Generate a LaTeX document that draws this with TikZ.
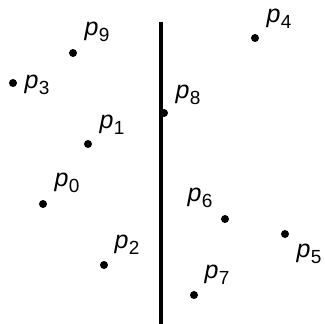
\documentclass[tikz,border=0pt]{standalone}
\usepackage{fontspec}
\setmainfont{Liberation Sans}
\setsansfont{Liberation Sans}
\newcommand\plab[1]{\textit{p}\kern0.3pt\raisebox{-5.5pt}{\fontsize{19}{19}\selectfont #1}}
\begin{document}
\begin{tikzpicture}[x=1pt,y=-1pt,
  pt/.style={circle,fill=black,inner sep=0pt,minimum size=8pt},
  lab/.style={inner sep=0pt,font=\fontsize{25}{27}\selectfont},
  sep/.style={line width=4pt}]
\useasboundingbox (0,0) rectangle (325,324);
\coordinate (top) at (161,22);
\coordinate (bot) at (161,324);
\draw[sep] (top) -- (bot);
\node[pt] (p0) at (43,204) {};
\node[pt] (p1) at (88,144) {};
\node[pt] (p2) at (104,265) {};
\node[pt] (p3) at (13,83) {};
\node[pt] (p4) at (255,38) {};
\node[pt] (p5) at (285,234) {};
\node[pt] (p6) at (225,219) {};
\node[pt] (p7) at (194,295) {};
\node[pt] (p8) at (164,113) {};
\node[pt] (p9) at (73,53) {};
\node[lab] (l0) at (67,183) {\plab{0}};
\node[lab] (l1) at (112,125) {\plab{1}};
\node[lab] (l2) at (127,245) {\plab{2}};
\node[lab] (l3) at (37,85) {\plab{3}};
\node[lab] (l4) at (279,19) {\plab{4}};
\node[lab] (l5) at (309,254) {\plab{5}};
\node[lab] (l6) at (200,198) {\plab{6}};
\node[lab] (l7) at (217,275) {\plab{7}};
\node[lab] (l8) at (188,95) {\plab{8}};
\node[lab] (l9) at (97,32) {\plab{9}};
\end{tikzpicture}
\end{document}
